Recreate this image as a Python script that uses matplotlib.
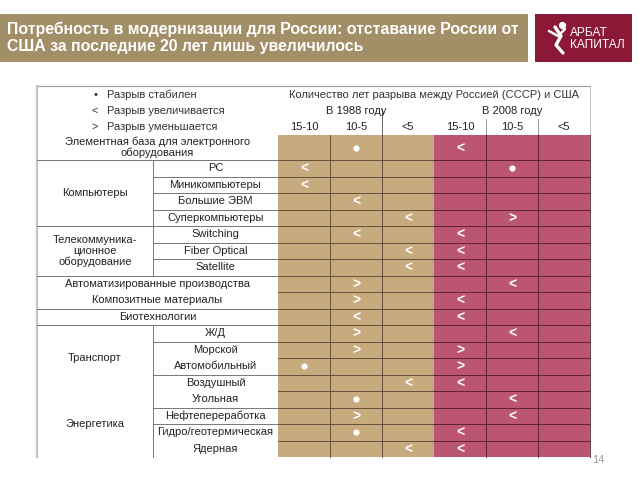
import matplotlib
matplotlib.use("Agg")
import matplotlib.pyplot as plt
from matplotlib.patches import Rectangle

plt.rcParams["font.family"] = ["Liberation Sans", "DejaVu Sans"]

TITLE = ("Потребность в модернизации для России: отставание России от\n"
         "США за последние 20 лет лишь увеличилось")
HEADER = "Количество лет разрыва между Россией (СССР) и США"
years = ["В 1988 году", "В 2008 году"]
gap_buckets = ["15-10", "10-5", "<5"]

legend_marks = ["•", "<", ">"]
legend_texts = ["Разрыв стабилен", "Разрыв увеличивается", "Разрыв уменьшается"]

row_labels = [
    "Элементная база для электронного\nоборудования",
    "PC", "Миникомпьютеры", "Большие ЭВМ", "Суперкомпьютеры",
    "Switching", "Fiber Optical", "Satellite",
    "Автоматизированные производства", "Композитные материалы", "Биотехнологии",
    "Ж/Д", "Морской", "Автомобильный", "Воздушный",
    "Угольная", "Нефтепереработка", "Гидро/геотермическая", "Ядерная",
]
# rows that span the whole label area (no group)
full_rows = [0, 8, 9, 10]
groups = [
    ("Компьютеры", 1, 4),
    ("Телекоммуника-\nционное\nоборудование", 5, 7),
    ("Транспорт", 11, 14),
    ("Энергетика", 15, 18),
]

bucket_1988 = ["10-5", "15-10", "15-10", "10-5", "<5", "10-5", "<5", "<5",
               "10-5", "10-5", "10-5", "10-5", "10-5", "15-10", "<5",
               "10-5", "10-5", "10-5", "<5"]
trend_1988 = ["•", "<", "<", "<", "<", "<", "<", "<",
              ">", ">", "<", ">", ">", "•", "<",
              "•", ">", "•", "<"]
bucket_2008 = ["15-10", "10-5", None, None, "10-5", "15-10", "15-10", "15-10",
               "10-5", "15-10", "15-10", "10-5", "15-10", "15-10", "15-10",
               "10-5", "10-5", "15-10", "15-10"]
trend_2008 = ["<", "•", None, None, ">", "<", "<", "<",
              "<", "<", "<", "<", ">", ">", "<",
              "<", "<", "<", "<"]

# separators inside the sub-label column / across the label area
sub_lines_after = [1, 2, 3, 5, 6, 11, 13, 15, 16]
full_lines_after = [0, 4, 7, 9, 10]

TAN = "#c8aa7f"
PINK = "#bc5572"
BANNER = "#a38f67"
LOGO = "#8c1838"
FS = 8

X_LEFT, X_SUB, X_CELLS, CELL_W = 37, 153, 278, 52
Y_TOP, Y_FIRST, FIRST_H, ROW_H = 86, 135, 25, 16.5


def row_top(i):
    return Y_FIRST if i == 0 else Y_FIRST + FIRST_H + (i - 1) * ROW_H


def row_h(i):
    return FIRST_H if i == 0 else ROW_H


fig = plt.figure(figsize=(6.4, 4.8), dpi=100)
ax = fig.add_axes([0, 0, 1, 1])
ax.set_xlim(0, 640)
ax.set_ylim(480, 0)
ax.axis("off")

# title banner and logo
ax.add_patch(Rectangle((0, 14), 528, 48, facecolor=BANNER, edgecolor="none"))
ax.text(7, 38, TITLE, color="white", fontsize=11.4, fontweight="bold",
        va="center", ha="left", linespacing=1.2)
ax.add_patch(Rectangle((535, 14), 97, 48, facecolor=LOGO, edgecolor="none"))
ax.text(570, 39, "АРБАТ\nКАПИТАЛ", color="white", fontsize=8.6, va="center",
        ha="left", linespacing=1.0, fontstretch="condensed")
ax.plot([555, 561, 556, 563], [27, 36, 45, 53], color="white", lw=2.4,
        solid_capstyle="round")
ax.plot([549, 558, 565], [31, 36, 29], color="white", lw=1.8,
        solid_capstyle="round")
ax.scatter([562], [25], s=18, color="white", zorder=3)

# table frame
x_right = X_CELLS + 6 * CELL_W
y_bottom = row_top(len(row_labels) - 1) + ROW_H
ax.plot([X_LEFT, x_right], [Y_TOP, Y_TOP], color="#9a9a9a", lw=0.8)
ax.plot([X_LEFT, X_LEFT], [Y_TOP, y_bottom], color="#c4c4c4", lw=1.6)

# legend in header
for k, (m, t) in enumerate(zip(legend_marks, legend_texts)):
    y = 95 + k * 16
    ax.text(95, y, m, fontsize=FS, ha="center", va="center", color="#333333")
    ax.text(107, y, t, fontsize=FS, ha="left", va="center", color="#333333")

ax.text(X_CELLS + 3 * CELL_W, 95, HEADER, fontsize=FS, ha="center",
        va="center", color="#333333")
for k, yr in enumerate(years):
    ax.text(X_CELLS + (3 * k + 1.5) * CELL_W, 111, yr, fontsize=FS,
            ha="center", va="center", color="#222222")
    for j, b in enumerate(gap_buckets):
        ax.text(X_CELLS + (3 * k + j + 0.5) * CELL_W, 127, b, fontsize=FS,
                ha="center", va="center", color="#222222")
ax.plot([X_CELLS + 2 * CELL_W] * 2, [109, Y_FIRST], color="#666666", lw=0.7)
for j in (4, 5):
    ax.plot([X_CELLS + j * CELL_W] * 2, [119, Y_FIRST], color="#888888", lw=0.6)
ax.plot([x_right] * 2, [Y_TOP, Y_FIRST], color="#bbbbbb", lw=0.6)

# coloured cells
for i in range(len(row_labels)):
    top, h = row_top(i), row_h(i)
    for j in range(6):
        ax.add_patch(Rectangle((X_CELLS + j * CELL_W, top), CELL_W, h,
                               facecolor=TAN if j < 3 else PINK,
                               edgecolor="none"))

# grid lines inside coloured block
for i in range(1, len(row_labels)):
    y = row_top(i)
    ax.plot([X_CELLS, X_CELLS + 3 * CELL_W], [y, y], color="#4d3b2a", lw=0.7, alpha=0.8)
    ax.plot([X_CELLS + 3 * CELL_W, x_right], [y, y], color="#4a1424", lw=0.7, alpha=0.8)
for j in (1, 2):
    ax.plot([X_CELLS + j * CELL_W] * 2, [Y_FIRST, y_bottom], color="#4d3b2a", lw=0.7, alpha=0.8)
for j in (4, 5, 6):
    ax.plot([X_CELLS + j * CELL_W] * 2, [Y_FIRST, y_bottom], color="#4a1424", lw=0.7, alpha=0.8)

# symbols
for col0, buckets, trends in ((0, bucket_1988, trend_1988), (3, bucket_2008, trend_2008)):
    for i, (b, t) in enumerate(zip(buckets, trends)):
        if b is None:
            continue
        x = X_CELLS + (col0 + gap_buckets.index(b) + 0.5) * CELL_W
        y = row_top(i) + row_h(i) / 2
        if t == "•":
            ax.scatter([x], [y], s=20, color="white", zorder=4, linewidths=0)
        else:
            ax.text(x, y + 1, t, color="white", fontsize=10, fontweight="bold",
                    ha="center", va="center", zorder=4)

# row labels
for i, lab in enumerate(row_labels):
    y = row_top(i) + row_h(i) / 2
    if i in full_rows:
        ax.text((X_LEFT + X_CELLS) / 2, y, lab, fontsize=FS, ha="center",
                va="center", color="#222222", linespacing=1.05)
    else:
        ax.text((X_SUB + X_CELLS) / 2, y, lab, fontsize=FS, ha="center",
                va="center", color="#222222")
for name, a, b in groups:
    y = (row_top(a) + row_top(b) + row_h(b)) / 2
    ax.text((X_LEFT + X_SUB) / 2, y, name, fontsize=FS, ha="center",
            va="center", color="#222222", linespacing=1.1)
    ax.plot([X_SUB, X_SUB], [row_top(a), row_top(b) + row_h(b)],
            color="#777777", lw=0.7)

for i in sub_lines_after:
    y = row_top(i) + row_h(i)
    ax.plot([X_SUB, X_CELLS], [y, y], color="#777777", lw=0.7)
for i in full_lines_after:
    y = row_top(i) + row_h(i)
    ax.plot([X_LEFT, X_CELLS], [y, y], color="#777777", lw=0.7)

ax.text(592, 460, "14", fontsize=8, color="#9a9a9a", ha="left", va="center")

fig.savefig("out.png", dpi=100)
